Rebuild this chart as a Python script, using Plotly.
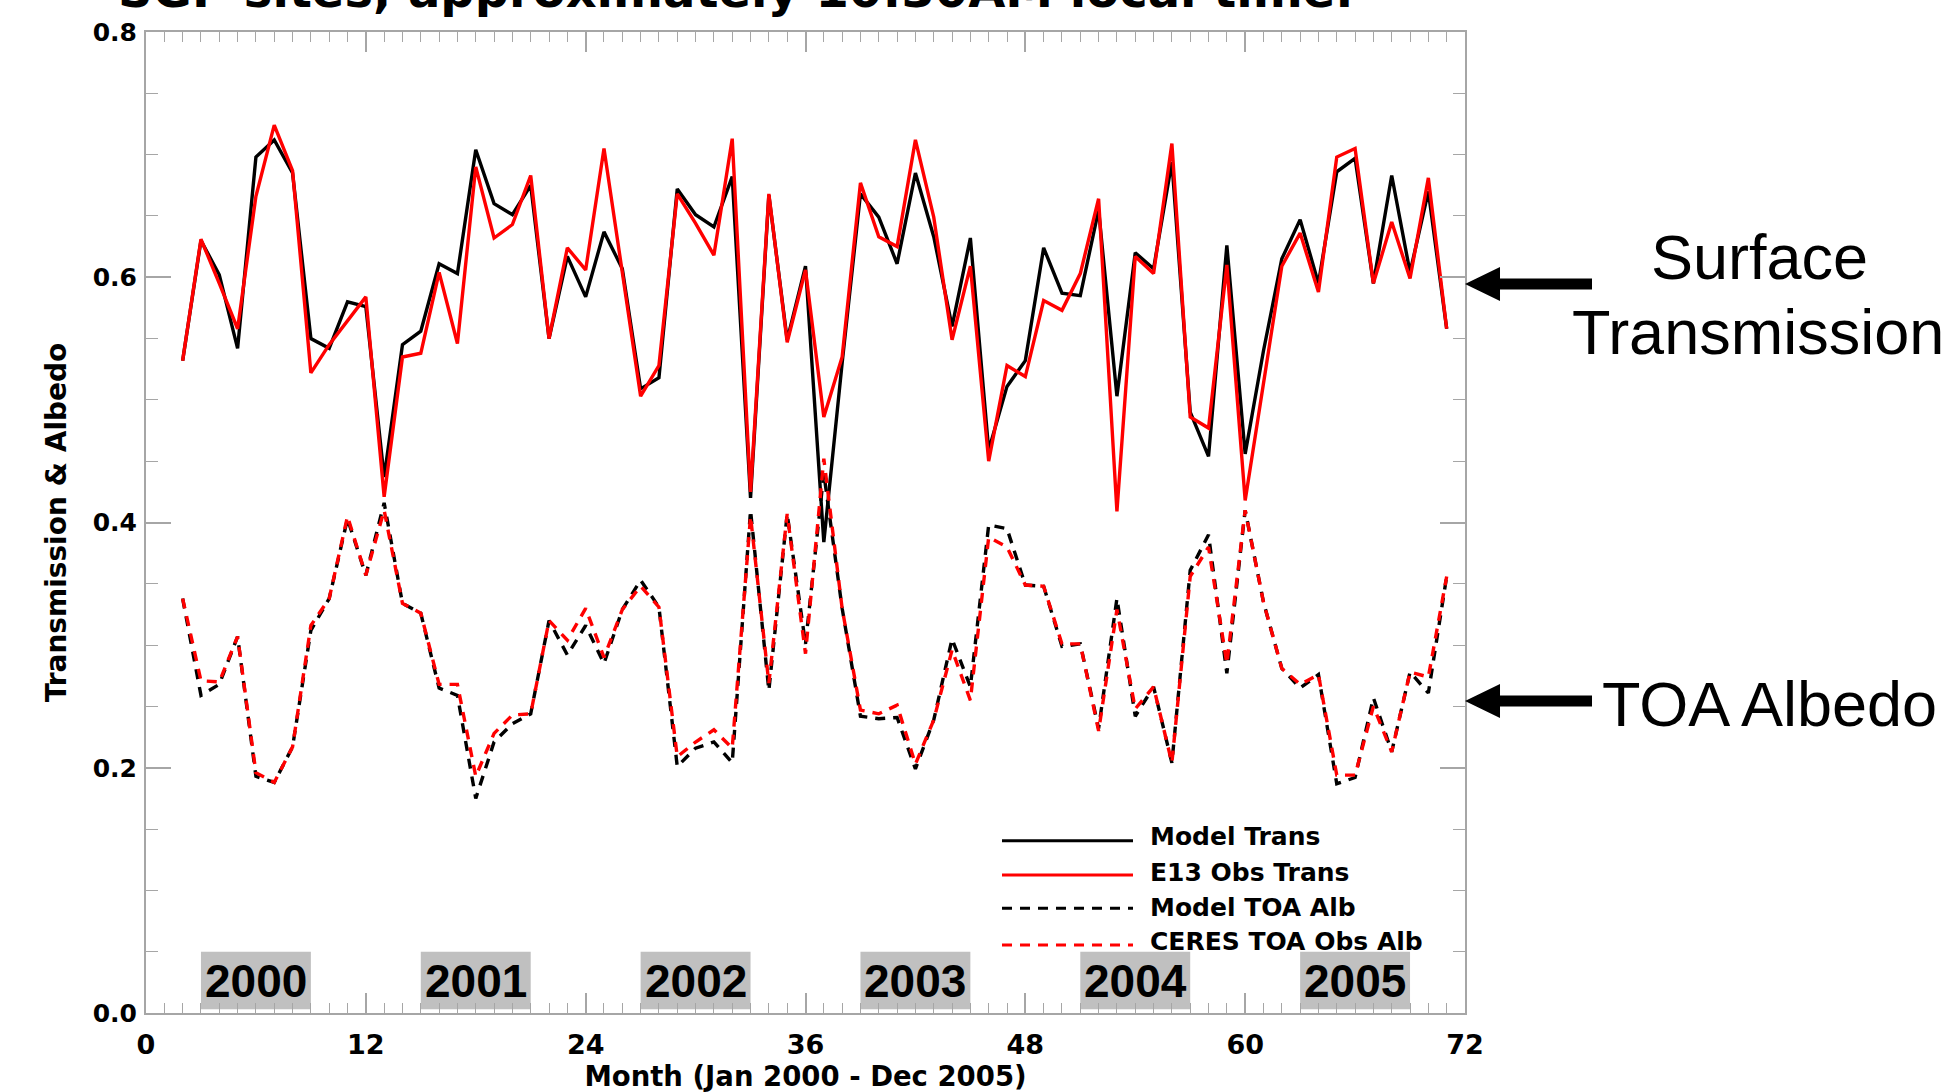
import plotly.graph_objects as go

# ---------------- data ----------------
months = list(range(2, 72))

model_trans = [0.532, 0.630, 0.602, 0.542, 0.698, 0.712, 0.685, 0.550, 0.542, 0.580,
               0.576, 0.437, 0.545, 0.556, 0.611, 0.603, 0.704, 0.660, 0.651, 0.675,
               0.550, 0.617, 0.584, 0.637, 0.607, 0.509, 0.518, 0.672, 0.651, 0.641,
               0.682, 0.420, 0.667, 0.549, 0.609, 0.384, 0.530, 0.668, 0.649, 0.611,
               0.685, 0.633, 0.560, 0.632, 0.459, 0.511, 0.532, 0.624, 0.587, 0.585,
               0.655, 0.503, 0.620, 0.607, 0.694, 0.490, 0.454, 0.626, 0.456, 0.540,
               0.615, 0.647, 0.595, 0.686, 0.697, 0.595, 0.683, 0.604, 0.670, 0.558]

e13_obs_trans = [0.532, 0.631, 0.595, 0.558, 0.666, 0.724, 0.687, 0.522, 0.545, 0.565,
                 0.584, 0.421, 0.535, 0.538, 0.604, 0.546, 0.690, 0.632, 0.643, 0.683,
                 0.550, 0.624, 0.606, 0.705, 0.603, 0.503, 0.528, 0.668, 0.644, 0.618,
                 0.713, 0.425, 0.668, 0.547, 0.606, 0.486, 0.535, 0.677, 0.633, 0.625,
                 0.712, 0.649, 0.549, 0.609, 0.450, 0.528, 0.519, 0.581, 0.573, 0.603,
                 0.664, 0.409, 0.617, 0.603, 0.709, 0.486, 0.477, 0.610, 0.418, 0.515,
                 0.609, 0.636, 0.588, 0.698, 0.705, 0.595, 0.645, 0.599, 0.681, 0.558]

model_toa_alb = [0.338, 0.259, 0.268, 0.307, 0.193, 0.188, 0.217, 0.312, 0.338, 0.403,
                 0.357, 0.416, 0.334, 0.326, 0.265, 0.259, 0.175, 0.221, 0.236, 0.244,
                 0.320, 0.292, 0.316, 0.285, 0.329, 0.353, 0.331, 0.201, 0.216, 0.221,
                 0.204, 0.410, 0.263, 0.407, 0.301, 0.440, 0.330, 0.242, 0.240, 0.241,
                 0.199, 0.239, 0.305, 0.266, 0.398, 0.395, 0.349, 0.348, 0.299, 0.301,
                 0.232, 0.338, 0.242, 0.266, 0.204, 0.361, 0.390, 0.277, 0.410, 0.335,
                 0.281, 0.265, 0.276, 0.187, 0.192, 0.257, 0.213, 0.278, 0.261, 0.356]

ceres_toa_alb = [0.338, 0.271, 0.270, 0.307, 0.196, 0.188, 0.217, 0.316, 0.338, 0.405,
                 0.357, 0.410, 0.334, 0.326, 0.268, 0.268, 0.193, 0.228, 0.243, 0.244,
                 0.320, 0.304, 0.330, 0.290, 0.329, 0.348, 0.331, 0.209, 0.221, 0.231,
                 0.216, 0.405, 0.269, 0.407, 0.293, 0.452, 0.330, 0.247, 0.244, 0.251,
                 0.203, 0.239, 0.296, 0.255, 0.388, 0.380, 0.349, 0.348, 0.301, 0.301,
                 0.230, 0.329, 0.248, 0.266, 0.204, 0.356, 0.380, 0.285, 0.410, 0.335,
                 0.281, 0.268, 0.276, 0.194, 0.194, 0.250, 0.213, 0.278, 0.274, 0.356]

series_names = ["Model Trans", "E13 Obs Trans", "Model TOA Alb", "CERES TOA Obs Alb"]
years = ["2000", "2001", "2002", "2003", "2004", "2005"]
x_ticks = [0, 12, 24, 36, 48, 60, 72]
y_ticks = [0.0, 0.2, 0.4, 0.6, 0.8]

title_text = "SGP sites, approximately 10:30AM local time."
x_title = "Month (Jan 2000 - Dec 2005)"
y_title = "Transmission & Albedo"

# ---------------- layout geometry (pixels) ----------------
W, H = 1953, 1092
L, R, T, B = 146, 1465, 32, 1013
PW, PH = R - L, B - T


def px(x):
    return (x - L) / PW


def py(y):
    return (B - y) / PH


GRAY = "#a6a6a6"
BOLD = dict(family="DejaVu Sans", weight="bold", color="black")
DASH = "10px,8px"
LW = 3.4

styles = [
    dict(color="black", width=LW, dash="solid"),
    dict(color="red", width=LW, dash="solid"),
    dict(color="black", width=LW, dash=DASH),
    dict(color="red", width=LW, dash=DASH),
]
values = [model_trans, e13_obs_trans, model_toa_alb, ceres_toa_alb]

fig = go.Figure()
for name, vals, st in zip(series_names, values, styles):
    fig.add_trace(go.Scatter(x=months, y=vals, mode="lines", name=name,
                             line=st, showlegend=False))

shapes = []
annotations = []

# year boxes
for i, yr in enumerate(years):
    x0 = 12 * i + 3
    shapes.append(dict(type="rect", xref="x", yref="y", x0=x0, x1=x0 + 6,
                       y0=0.003, y1=0.05, fillcolor="#c0c0c0",
                       line=dict(width=0), layer="below"))
    annotations.append(dict(x=x0 + 3, y=0.0265, xref="x", yref="y", text=yr,
                            showarrow=False, xanchor="center", yanchor="middle",
                            font=dict(family="Liberation Sans", weight="bold",
                                      size=46, color="black")))

# legend (drawn manually for long sample lines)
leg_line_y = [840.7, 875, 908.3, 945]
leg_text_y = [837, 872, 907, 941]
for name, st, ly, ty in zip(series_names, styles, leg_line_y, leg_text_y):
    shapes.append(dict(type="line", xref="paper", yref="paper",
                       x0=px(1002), x1=px(1133), y0=py(ly), y1=py(ly),
                       line=dict(color=st["color"], width=3, dash=st["dash"])))
    annotations.append(dict(x=px(1148), y=py(ty), xref="paper", yref="paper",
                            text=name, showarrow=False, xanchor="left",
                            yanchor="middle", font=dict(BOLD, size=25)))


# arrows on the right
def arrow(tip_y, half_head, half_shaft):
    pts = [(1465, tip_y), (1500, tip_y - half_head), (1500, tip_y - half_shaft),
           (1592, tip_y - half_shaft), (1592, tip_y + half_shaft),
           (1500, tip_y + half_shaft), (1500, tip_y + half_head)]
    return "M" + " L".join(f"{px(a):.5f},{py(b):.5f}" for a, b in pts) + " Z"


for ty in (284, 701):
    shapes.append(dict(type="path", xref="paper", yref="paper",
                       path=arrow(ty, 17, 5.5), fillcolor="black",
                       line=dict(width=0)))

right_font = dict(family="Liberation Sans", size=63, color="black")
for txt, cx, cy in (("Surface", 1759, 257), ("Transmission", 1758, 332),
                    ("TOA Albedo", 1769, 704)):
    annotations.append(dict(x=px(cx), y=py(cy), xref="paper", yref="paper",
                            text=txt, showarrow=False, xanchor="center",
                            yanchor="middle", font=right_font))

# cut-off title at the top
annotations.append(dict(x=px(116), y=py(20), xref="paper", yref="paper",
                        text=title_text, showarrow=False, xanchor="left",
                        yanchor="bottom", font=dict(BOLD, size=48)))

fig.update_layout(
    width=W, height=H,
    margin=dict(l=L, r=W - R, t=T, b=H - B),
    paper_bgcolor="white", plot_bgcolor="white",
    shapes=shapes, annotations=annotations,
    showlegend=False,
)

fig.update_xaxes(
    range=[0, 72], tickvals=x_ticks, ticktext=[str(v) for v in x_ticks],
    ticks="inside", ticklen=20, tickwidth=1.5, tickcolor=GRAY,
    showline=True, linecolor=GRAY, linewidth=2, mirror="ticks",
    showgrid=False, zeroline=False, automargin=False,
    minor=dict(dtick=1, ticks="inside", ticklen=10, tickwidth=1.2,
               tickcolor=GRAY, showgrid=False),
    tickfont=dict(BOLD, size=27), ticklabelstandoff=7,
    title=dict(text=x_title, font=dict(BOLD, size=27.5), standoff=11),
)
fig.update_yaxes(
    range=[0, 0.8], tickvals=y_ticks, ticktext=[f"{v:.1f}" for v in y_ticks],
    ticks="inside", ticklen=25, tickwidth=1.5, tickcolor=GRAY,
    showline=True, linecolor=GRAY, linewidth=2, mirror="ticks",
    showgrid=False, zeroline=False, automargin=False,
    minor=dict(dtick=0.05, ticks="inside", ticklen=12, tickwidth=1.2,
               tickcolor=GRAY, showgrid=False),
    tickfont=dict(BOLD, size=25), ticklabelstandoff=2,
    title=dict(text=y_title, font=dict(BOLD, size=28), standoff=18),
)

fig.write_html("out.html")
